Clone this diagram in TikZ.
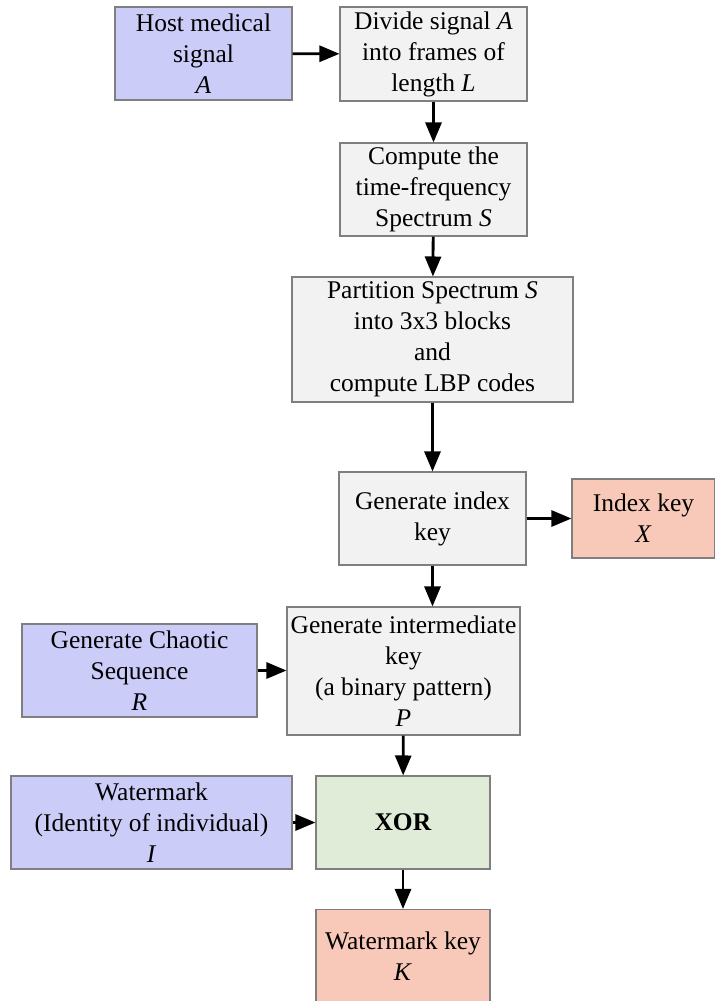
\documentclass[tikz,border=0pt]{standalone}
\usepackage{fontspec}
\setmainfont{Liberation Serif}
\usetikzlibrary{arrows.meta}

\definecolor{hostblue}{HTML}{CCCCF8}
\definecolor{procgray}{HTML}{F2F2F2}
\definecolor{keyred}{HTML}{F8C8B8}
\definecolor{xorgreen}{HTML}{E0ECD8}
\definecolor{edgegray}{HTML}{7F7F7F}

\tikzset{
    block/.style={draw=edgegray, line width=0.6pt, align=center, inner sep=2pt,
        font=\fontsize{14.5}{17.6}\selectfont},
    hostbox/.style={block, fill=hostblue},
    procbox/.style={block, fill=procgray},
    keybox/.style={block, fill=keyred},
    xorbox/.style={block, fill=xorgreen},
    arr/.style={line width=1.6pt, -{Triangle[length=0.4cm, width=0.32cm]}}
}

\begin{document}
\begin{tikzpicture}
    \useasboundingbox (0,0) rectangle (14.3,-20.02);

    \node[hostbox, minimum width=3.54cm, minimum height=1.86cm] (host) at (4.07, -1.07) {Host medical\\signal\\\textit{A}};
    \node[procbox, minimum width=3.74cm, minimum height=1.88cm] (divide) at (8.67, -1.08) {Divide signal \textit{A}\\into frames of\\length \textit{L}};
    \node[procbox, minimum width=3.74cm, minimum height=1.86cm] (spectrum) at (8.67, -3.79) {Compute the\\time-frequency\\Spectrum \textit{S}};
    \node[procbox, minimum width=5.62cm, minimum height=2.5cm] (partition) at (8.65, -6.79) {Partition Spectrum \textit{S}\\into 3x3 blocks\\and\\compute LBP codes};
    \node[procbox, minimum width=3.74cm, minimum height=1.86cm] (index) at (8.65, -10.37) {Generate index\\key};
    \node[keybox, minimum width=2.86cm, minimum height=1.58cm] (indexkey) at (12.87, -10.37) {Index key\\\textit{X}};
    \node[procbox, minimum width=4.66cm, minimum height=2.56cm] (inter) at (8.07, -13.42) {Generate intermediate\\key\\(a binary pattern)\\\textit{P}};
    \node[hostbox, minimum width=4.7cm, minimum height=1.86cm] (chaos) at (2.79, -13.41) {Generate Chaotic\\Sequence\\\textit{R}};
    \node[hostbox, minimum width=5.62cm, minimum height=1.86cm] (wmark) at (3.03, -16.45) {Watermark\\(Identity of individual)\\\textit{I}};
    \node[xorbox, minimum width=3.48cm, minimum height=1.86cm] (xor) at (8.06, -16.45) {\textbf{XOR}};
    \node[keybox, minimum width=3.48cm, minimum height=1.86cm] (wkey) at (8.06, -19.12) {Watermark key\\\textit{K}};

    \draw[arr] (host) -- (divide);
    \draw[arr] (divide) -- (spectrum);
    \draw[arr] (spectrum) -- (partition);
    \draw[arr] (partition) -- (index);
    \draw[arr] (index) -- (indexkey);
    \draw[arr] (index.south) -- (index.south |- inter.north);
    \draw[arr] (chaos.east) -- (chaos.east -| inter.west);
    \draw[arr] (inter) -- (xor);
    \draw[arr] (wmark) -- (xor);
    \draw[arr] (xor) -- (wkey);
\end{tikzpicture}
\end{document}
